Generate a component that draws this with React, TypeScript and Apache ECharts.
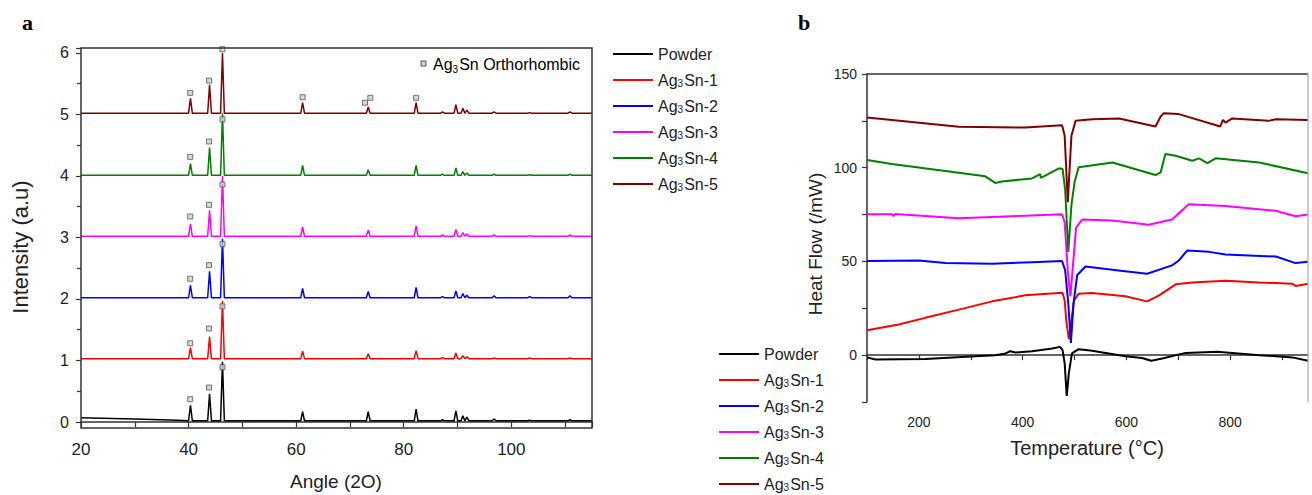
import React, { useEffect, useRef } from "react";
import * as echarts from "echarts";

// ---------- XRD (panel a) ----------
const seriesNames = ["Powder", "Ag3Sn-1", "Ag3Sn-2", "Ag3Sn-3", "Ag3Sn-4", "Ag3Sn-5"];
const seriesColors = ["#000000", "#ff0000", "#0000ff", "#ff00ff", "#008000", "#800000"];

const xrdAngles = [40.35, 43.9, 46.3, 61.2, 73.4, 82.3, 87.2, 89.7, 91.0, 91.75, 96.8, 103.4, 110.9];
const xrdBaselines = [0.02, 1.03, 2.02, 3.02, 4.01, 5.02];
const powderLead = [[20, 0.07], [30, 0.05], [38, 0.03]];
const powderApex = [0.27, 0.46, 0.98, 0.17, 0.17, 0.21, 0.04, 0.18, 0.1, 0.08, 0.05, 0.03, 0.04];
const sn1Apex = [1.21, 1.39, 1.97, 1.15, 1.11, 1.16, 1.05, 1.12, 1.08, 1.06, 1.04, 1.04, 1.04];
const sn2Apex = [2.22, 2.45, 2.98, 2.17, 2.12, 2.19, 2.04, 2.13, 2.09, 2.06, 2.05, 2.04, 2.05];
const sn3Apex = [3.22, 3.44, 4.0, 3.17, 3.12, 3.19, 3.04, 3.13, 3.08, 3.06, 3.04, 3.03, 3.04];
const sn4Apex = [4.2, 4.46, 5.02, 4.17, 4.1, 4.17, 4.03, 4.13, 4.07, 4.05, 4.03, 4.02, 4.03];
const sn5Apex = [5.26, 5.48, 6.0, 5.19, 5.12, 5.19, 5.04, 5.16, 5.1, 5.07, 5.04, 5.03, 5.04];
const xrdApex = [powderApex, sn1Apex, sn2Apex, sn3Apex, sn4Apex, sn5Apex];

const phaseMarks = [
  [40.3, 0.37], [43.8, 0.56], [46.3, 0.89],
  [40.3, 1.28], [43.8, 1.52], [46.3, 1.88],
  [40.3, 2.33], [43.8, 2.55], [46.3, 2.89],
  [40.3, 3.34], [43.8, 3.53], [46.3, 3.86],
  [40.3, 4.31], [43.8, 4.56], [46.3, 4.92],
  [40.3, 5.35], [43.8, 5.55], [46.3, 6.06], [61.2, 5.28], [72.8, 5.19], [73.8, 5.27], [82.3, 5.27],
];

// ---------- DSC (panel b) ----------
const powderDsc = [[100, -1.2], [116, -2.3], [212, -2.0], [309, -0.6], [347, 0], [367, 0.9], [376, 2.1], [386, 1.4], [418, 2.1], [457, 3.5], [472, 4.4], [477, 2.7], [481, -4.4], [485, -21.8], [489, -9.7], [495, 0.9], [508, 3.2], [534, 2.3], [598, -0.6], [630, -1.5], [648, -3.0], [669, -1.8], [714, 1.2], [775, 1.8], [856, 0], [920, -1.2], [950, -3.0]];
const sn1Dsc = [[100, 13.3], [161, 16.3], [212, 19.9], [277, 24.3], [341, 28.7], [405, 31.9], [477, 33.3], [481, 29.2], [484, 18.6], [489, 8.5], [494, 18.6], [499, 29.2], [508, 32.8], [534, 33.2], [598, 31.4], [640, 28.7], [663, 31.9], [695, 37.8], [727, 38.8], [791, 39.7], [856, 38.8], [920, 38.1], [926, 36.9], [950, 38.1]];
const sn2Dsc = [[100, 50.2], [200, 50.5], [251, 49.1], [341, 48.7], [418, 49.6], [476, 50.2], [482, 45.2], [488, 27.5], [493, 6.5], [498, 27.5], [505, 42.6], [521, 47.3], [585, 45.2], [640, 43.4], [688, 47.9], [701, 50.5], [717, 55.8], [759, 55.1], [791, 53.7], [888, 52.6], [926, 49.1], [950, 49.8]];
const sn3Dsc = [[100, 75.2], [148, 75.2], [151, 74.1], [154, 75.3], [277, 73.0], [405, 74.4], [476, 75.2], [481, 70.9], [487, 45], [492, 31.4], [497, 48], [503, 68], [515, 72.4], [573, 71.8], [643, 69.6], [688, 72.4], [720, 80.5], [791, 79.6], [888, 77.0], [926, 74.1], [950, 75.0]];
const sn4Dsc = [[100, 104.1], [148, 102.0], [328, 95.4], [347, 91.9], [360, 92.6], [418, 94.3], [434, 96.6], [435, 94.6], [437, 94.9], [470, 99.7], [477, 99.3], [482, 88], [488, 55.0], [494, 80], [500, 92.2], [508, 100.2], [573, 102.8], [656, 96.1], [666, 97.5], [675, 107.3], [695, 106.4], [727, 103.7], [740, 105.0], [756, 102.5], [772, 105.0], [856, 102.8], [950, 97.0]];
const sn5Dsc = [[100, 126.8], [148, 125.5], [277, 121.8], [405, 121.4], [476, 122.7], [481, 117.0], [487, 81.6], [494, 117.0], [502, 125.0], [534, 125.9], [586, 126.3], [656, 122.0], [666, 127.3], [672, 129.1], [701, 128.6], [778, 122.3], [781, 122], [786, 125.5], [791, 124.1], [804, 126.3], [874, 125.0], [888, 125.9], [950, 125.5]];
const dscData = [powderDsc, sn1Dsc, sn2Dsc, sn3Dsc, sn4Dsc, sn5Dsc];

const FONT = "'Liberation Sans', Arial, sans-serif";
const INK = "#222";

function xrdProfile(i: number) {
  const base = xrdBaselines[i];
  const pts: number[][] = i === 0 ? powderLead.map((p) => [...p]) : [[20, base]];
  xrdAngles.forEach((a, k) => {
    pts.push([a - 0.35, base], [a, xrdApex[i][k]], [a + 0.35, base]);
  });
  pts.push([115, base]);
  return pts;
}

const legendRich = {
  n: { fontSize: 16, fontFamily: FONT, color: INK, lineHeight: 16, verticalAlign: "middle" },
  s: { fontSize: 10, fontFamily: FONT, color: INK, lineHeight: 6, verticalAlign: "bottom", padding: [0, 1, 0, 0] },
};
const annotRich = {
  n: { fontSize: 16, fontFamily: FONT, color: INK, lineHeight: 20, verticalAlign: "middle" },
  s: { fontSize: 10, fontFamily: FONT, color: INK, lineHeight: 10, verticalAlign: "bottom", padding: [0, 1, 0, 0] },
};
const legendFormatter = (name: string) =>
  name.startsWith("Ag3Sn") ? `{n|Ag}{s|3}{n|${name.slice(3)}}` : `{n|${name}}`;

export default function App() {
  const ref = useRef<HTMLDivElement>(null);
  useEffect(() => {
    if (!ref.current) return;
    const chart = echarts.init(ref.current, null, { renderer: "svg" });
    const axisLine = { show: true, lineStyle: { color: "#333", width: 1.5 } };
    const legendBase = {
      data: seriesNames, orient: "vertical", itemWidth: 40, itemHeight: 2, icon: "rect", padding: 0,
      formatter: legendFormatter, textStyle: { rich: legendRich }, selectedMode: false,
    };
    const option: any = {
      animation: false,
      backgroundColor: "#fff",
      grid: [
        { left: 81, top: 48, width: 511, height: 374 },
        { left: 867, top: 74, width: 441, height: 328 },
      ],
      xAxis: [
        {
          gridIndex: 0, type: "value", min: 20, max: 115, interval: 20, offset: 6,
          axisLine, axisTick: { show: true, length: 5, lineStyle: { color: "#333", width: 1.2 } },
          minorTick: { show: true, splitNumber: 2, length: 5, lineStyle: { color: "#333", width: 1.2 } },
          axisLabel: { margin: 13, fontSize: 17, fontFamily: FONT, color: INK, showMaxLabel: false },
          splitLine: { show: false },
        },
        {
          gridIndex: 1, type: "value", min: 100, max: 950, interval: 100,
          axisLine, axisTick: { show: true, length: 5, lineStyle: { color: "#333", width: 1.2 } },
          axisLabel: {
            margin: 13, fontSize: 14, fontFamily: FONT, color: INK, showMaxLabel: false,
            formatter: (v: number) => (v % 200 === 0 ? String(v) : ""),
          },
          splitLine: { show: false },
        },
      ],
      yAxis: [
        {
          gridIndex: 0, type: "value", min: 0, max: 6.08, interval: 1,
          axisLine: { show: false },
          axisTick: { show: true, length: 5, lineStyle: { color: "#333", width: 1.2 } },
          minorTick: { show: true, splitNumber: 2, length: 4, lineStyle: { color: "#333", width: 1.2 } },
          axisLabel: { margin: 12, fontSize: 16, fontFamily: FONT, color: INK, showMaxLabel: false },
          splitLine: { show: false },
        },
        {
          gridIndex: 1, type: "value", min: -25, max: 150, interval: 25,
          axisLine, axisTick: { show: true, length: 5, lineStyle: { color: "#333", width: 1.2 } },
          axisLabel: {
            margin: 10, fontSize: 14, fontFamily: FONT, color: INK,
            formatter: (v: number) => (v % 50 === 0 ? String(v) : ""),
          },
          splitLine: { show: false },
        },
      ],
      legend: [
        { ...legendBase, left: 613, top: 46, itemGap: 10 },
        { ...legendBase, left: 719, top: 346, itemGap: 10 },
      ],
      series: [
        ...seriesNames.map((name, i) => ({
          name, type: "line", xAxisIndex: 0, yAxisIndex: 0, data: xrdProfile(i),
          symbol: "none", lineStyle: { color: seriesColors[i], width: 1.5 }, itemStyle: { color: seriesColors[i] },
        })),
        {
          name: "phase", type: "scatter", xAxisIndex: 0, yAxisIndex: 0, data: phaseMarks,
          symbol: "rect", symbolSize: 5, itemStyle: { color: "#d0d0d0", borderColor: "#555", borderWidth: 1 }, z: 5,
        },
        ...seriesNames.map((name, i) => ({
          name, type: "line", xAxisIndex: 1, yAxisIndex: 1, data: dscData[i],
          symbol: "none", lineStyle: { color: seriesColors[i], width: 2 }, itemStyle: { color: seriesColors[i] },
        })),
      ],
      graphic: [
        { type: "rect", shape: { x: 81, y: 48, width: 511, height: 380 }, style: { fill: "none", stroke: "#333", lineWidth: 1.5 }, z: 10 },
        { type: "line", shape: { x1: 867, y1: 74, x2: 1308, y2: 74 }, style: { stroke: "#333", lineWidth: 1.5 }, z: 10 },
        { type: "line", shape: { x1: 1308, y1: 74, x2: 1308, y2: 402 }, style: { stroke: "#aaa", lineWidth: 1.2 }, z: 10 },
        { type: "rect", shape: { x: 421, y: 61, width: 5, height: 5 }, style: { fill: "#d0d0d0", stroke: "#555", lineWidth: 1 }, z: 10 },
        {
          type: "text", x: 433, y: 64, z: 10,
          style: {
            text: "{n|Ag}{s|3}{n|Sn Orthorhombic}", rich: annotRich, verticalAlign: "middle", align: "left",
          },
        },
        { type: "text", x: 22, y: 22, style: { text: "a", font: "bold 22px 'Liberation Serif', serif", fill: "#000", verticalAlign: "middle" } },
        { type: "text", x: 798, y: 22, style: { text: "b", font: "bold 22px 'Liberation Serif', serif", fill: "#000", verticalAlign: "middle" } },
        {
          type: "text", x: 20, y: 247, rotation: Math.PI / 2,
          style: { text: "Intensity (a.u)", font: `22px ${FONT}`, fill: INK, align: "center", verticalAlign: "middle" },
        },
        {
          type: "text", x: 336, y: 481,
          style: { text: "Angle (2O)", font: `19px ${FONT}`, fill: INK, align: "center", verticalAlign: "middle" },
        },
        {
          type: "text", x: 815, y: 244, rotation: Math.PI / 2,
          style: { text: "Heat Flow (/mW)", font: `19px ${FONT}`, fill: INK, align: "center", verticalAlign: "middle" },
        },
        {
          type: "text", x: 1087, y: 448,
          style: { text: "Temperature (°C)", font: `20px ${FONT}`, fill: INK, align: "center", verticalAlign: "middle" },
        },
      ],
    };
    chart.setOption(option);
    return () => chart.dispose();
  }, []);
  return <div ref={ref} style={{ position: "fixed", left: 0, top: 0, width: 1312, height: 495 }} />;
}
